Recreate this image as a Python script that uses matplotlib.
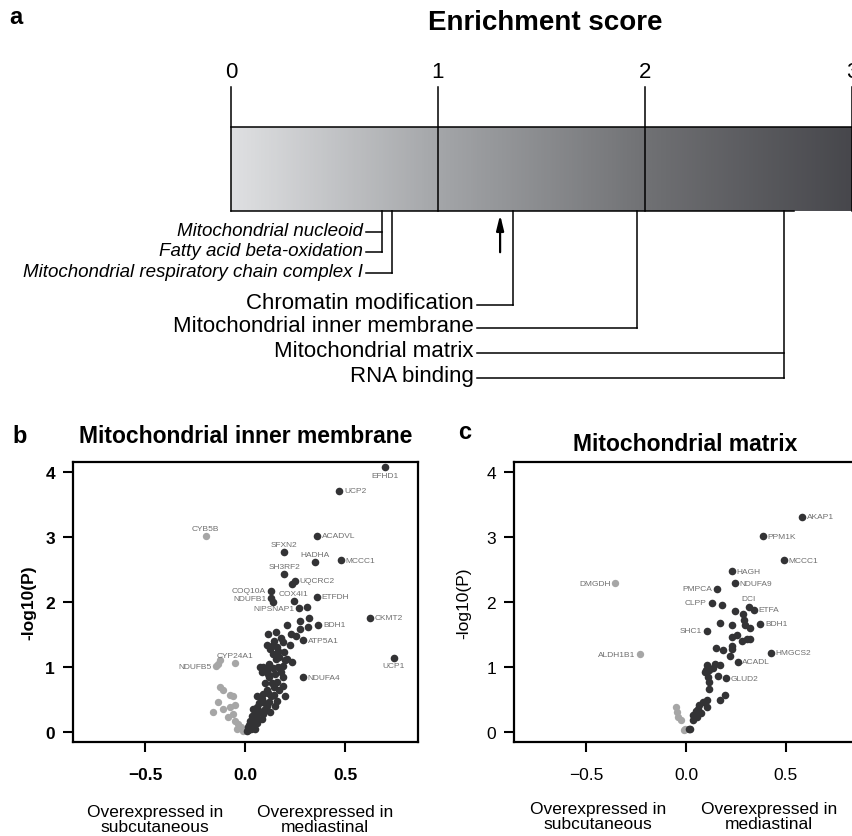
import matplotlib
matplotlib.use("Agg")
import matplotlib.pyplot as plt
import numpy as np
from matplotlib.colors import LinearSegmentedColormap

plt.rcParams['font.family'] = ['Liberation Sans', 'DejaVu Sans']

W, H = 852, 837

# ---- panel a: enrichment scores ----
score_ticks = [0, 1, 2, 3]
minor_terms = ["Mitochondrial nucleoid", "Fatty acid beta-oxidation",
               "Mitochondrial respiratory chain complex I"]
minor_scores = [0.73, 0.73, 0.78]
major_terms = ["Chromatin modification", "Mitochondrial inner membrane",
               "Mitochondrial matrix", "RNA binding"]
major_scores = [1.36, 1.96, 2.67, 2.67]
threshold = 1.3  # -log10(0.05)

# ---- panel b: mitochondrial inner membrane ----
b_lab_genes = ["EFHD1", "UCP2", "ACADVL", "SFXN2", "HADHA", "MCCC1", "SH3RF2", "UQCRC2",
               "COQ10A", "NDUFB1", "COX4I1", "ETFDH", "NIPSNAP1", "CKMT2", "BDH1", "ATP5A1",
               "UCP1", "NDUFA4"]
b_lab_x = [0.70, 0.472, 0.362, 0.195, 0.348, 0.478, 0.197, 0.248,
           0.13, 0.13, 0.243, 0.358, 0.272, 0.625, 0.367, 0.292, 0.745, 0.288]
b_lab_y = [4.07, 3.71, 3.02, 2.77, 2.61, 2.64, 2.43, 2.33,
           2.17, 2.06, 2.02, 2.08, 1.90, 1.76, 1.65, 1.415, 1.14, 0.84]
b_lab_gray_genes = ["CYB5B", "CYP24A1", "NDUFB5"]
b_lab_gray_x = [-0.197, -0.048, -0.145]
b_lab_gray_y = [3.01, 1.06, 1.01]
b_dark_x = [0.233, 0.142, 0.308, 0.117, 0.155, 0.212, 0.275, 0.322, 0.317, 0.228, 0.255, 0.275,
            0.108, 0.133, 0.192, 0.225, 0.167, 0.195, 0.172, 0.208, 0.233, 0.155, 0.075, 0.108,
            0.138, 0.167, 0.192, 0.083, 0.117, 0.15, 0.178, 0.133, 0.162, 0.188, 0.145, 0.058,
            0.092, 0.117, 0.145, 0.158, 0.122, 0.15, 0.042, 0.072, 0.10, 0.125, 0.055, 0.083,
            0.025, 0.042, 0.017, 0.008, 0.028, 0.092, 0.067, 0.108, 0.05, 0.035, 0.06, 0.02,
            0.09, 0.12, 0.14, 0.16, 0.18, 0.20, 0.10, 0.11, 0.13, 0.07, 0.06, 0.09,
            0.04, 0.03, 0.05, 0.015, 0.12, 0.19, 0.17, 0.20, 0.085, 0.125, 0.145, 0.065]
b_dark_y = [2.28, 2.005, 1.92, 1.51, 1.54, 1.64, 1.71, 1.76, 1.61, 1.51, 1.47, 1.59,
            1.34, 1.33, 1.38, 1.34, 1.25, 1.23, 1.16, 1.12, 1.08, 1.13, 0.995, 0.96,
            0.98, 0.995, 1.02, 0.92, 0.89, 0.89, 0.92, 0.76, 0.77, 0.71, 0.69, 0.56,
            0.585, 0.60, 0.57, 0.48, 0.456, 0.405, 0.354, 0.328, 0.354, 0.30, 0.24, 0.20,
            0.174, 0.123, 0.072, 0.02, 0.046, 0.456, 0.20, 0.405, 0.30, 0.25, 0.14, 0.10,
            1.00, 1.05, 1.20, 1.30, 1.45, 1.10, 0.75, 0.65, 0.55, 0.45, 0.38, 0.28,
            0.18, 0.08, 0.05, 0.03, 0.85, 0.85, 0.65, 0.55, 0.50, 1.28, 1.40, 0.33]
b_gray_x = [-0.125, -0.112, -0.075, -0.058, -0.133, -0.158, -0.112, -0.075, -0.05, -0.058,
            -0.083, -0.05, -0.033, -0.022, -0.008, -0.038, -0.133, -0.125]
b_gray_y = [0.69, 0.64, 0.57, 0.56, 0.456, 0.30, 0.354, 0.38, 0.415, 0.277,
            0.226, 0.174, 0.123, 0.072, 0.02, 0.046, 1.046, 1.10]

# ---- panel c: mitochondrial matrix ----
c_lab_genes = ["AKAP1", "PPM1K", "MCCC1", "HAGH", "NDUFA9", "PMPCA", "CLPP", "DCI", "ETFA",
               "BDH1", "SHC1", "HMGCS2", "ACADL", "GLUD2"]
c_lab_x = [0.581, 0.384, 0.489, 0.229, 0.243, 0.154, 0.129, 0.313, 0.338,
           0.372, 0.104, 0.425, 0.258, 0.201]
c_lab_y = [3.31, 3.015, 2.64, 2.47, 2.29, 2.205, 1.985, 1.93, 1.88,
           1.667, 1.554, 1.22, 1.077, 0.83]
c_lab_gray_genes = ["DMGDH", "ALDH1B1"]
c_lab_gray_x = [-0.353, -0.228]
c_lab_gray_y = [2.29, 1.195]
c_dark_x = [0.181, 0.243, 0.285, 0.288, 0.296, 0.318, 0.171, 0.229, 0.229, 0.255, 0.28,
            0.305, 0.318, 0.151, 0.184, 0.229, 0.229, 0.218, 0.107, 0.146, 0.171, 0.095,
            0.117, 0.134, 0.112, 0.162, 0.117, 0.117, 0.171, 0.196, 0.087, 0.107, 0.067,
            0.104, 0.05, 0.074, 0.034, 0.054, 0.037, 0.02, 0.013, 0.10, 0.06, 0.045]
c_dark_y = [1.96, 1.856, 1.82, 1.72, 1.64, 1.60, 1.68, 1.64, 1.46, 1.49, 1.395,
            1.43, 1.43, 1.29, 1.256, 1.33, 1.28, 1.17, 1.036, 1.05, 1.026, 0.923,
            0.95, 0.985, 0.846, 0.86, 0.77, 0.667, 0.487, 0.574, 0.46, 0.487, 0.41,
            0.385, 0.318, 0.297, 0.256, 0.23, 0.18, 0.04, 0.05, 0.95, 0.36, 0.28]
c_gray_x = [-0.05, -0.047, -0.039, -0.027, -0.01, -0.005]
c_gray_y = [0.385, 0.308, 0.23, 0.18, 0.026, 0.05]

x_ticks = [-0.5, 0.0, 0.5]
y_ticks = [0, 1, 2, 3, 4]
side_labels = ["Overexpressed in\nsubcutaneous", "Overexpressed in\nmediastinal"]

# label placement (r/l/t/b) for each labelled gene
b_place = ["b", "r", "r", "t", "t", "r", "t", "r", "l", "l", "t", "r", "l", "r", "r", "r", "b", "r"]
b_gray_place = ["t", "t", "l"]
c_place = ["r", "r", "r", "r", "r", "l", "l", "t", "r", "r", "l", "r", "r", "r"]
c_gray_place = ["l", "l"]

DARK = "#333335"
LIGHT = "#a6a6a6"
LABEL = "#6f6f6f"


def fx(px):
    return px / W


def fy(py):
    return 1 - py / H


fig = plt.figure(figsize=(W / 100, H / 100), dpi=100)

# panel a drawn in an axes whose x-axis is the enrichment score, y in layout rows
px_per = 207.0
ax = fig.add_axes([0, fy(400), 1, 400 / H])
ax.set_xlim(-231 / px_per, 621 / px_per)
ax.set_ylim(400, 0)
ax.axis("off")

bar_top, bar_bot = 128, 212
cmap = LinearSegmentedColormap.from_list("es", ["#dfe0e2", "#a3a5a8", "#6f7073", "#45454a"])
grad = np.linspace(0, 1, 400).reshape(1, -1)
ax.imshow(grad, cmap=cmap, aspect="auto", extent=(0, 3.05, bar_bot, bar_top), zorder=1)
ax.plot([0, 3.05], [bar_top, bar_top], color="k", lw=1.1, zorder=3)
ax.plot([0, 2.72], [bar_bot, bar_bot], color="k", lw=1.1, zorder=3)
for t in score_ticks:
    ax.plot([t, t], [88, bar_bot], color="k", lw=1.1, zorder=3)
    ax.text(t, 72, str(t), ha="center", va="center", fontsize=16)
ax.text(1.516, 23, "Enrichment score", ha="center", va="center", fontsize=20, fontweight="bold")
ax.text(-1.07, 17, "a", ha="left", va="center", fontsize=17, fontweight="bold")

minor_rows = [233, 253, 274]
major_rows = [306, 329, 354, 379]
minor_text_end = (363 - 231) / px_per
major_text_end = (474 - 231) / px_per
for term, s, yr in zip(minor_terms, minor_scores, minor_rows):
    ax.text(minor_text_end, yr - 1, term, ha="right", va="center", fontsize=13.5, style="italic")
    ax.plot([minor_text_end + 3 / px_per, s], [yr, yr], color="k", lw=1.1)
for term, s, yr in zip(major_terms, major_scores, major_rows):
    ax.text(major_text_end, yr - 2, term, ha="right", va="center", fontsize=16)
    ax.plot([major_text_end + 3 / px_per, s], [yr, yr], color="k", lw=1.1)
for scores, rows in ((minor_scores, minor_rows), (major_scores, major_rows)):
    for s in sorted(set(scores)):
        ymax = max(r for sc, r in zip(scores, rows) if sc == s)
        ax.plot([s, s], [bar_bot, ymax], color="k", lw=1.1)
ax.annotate("", xy=(threshold, bar_bot + 1), xytext=(threshold, 256),
            arrowprops=dict(arrowstyle="-|>,head_width=0.22,head_length=0.9", color="k", lw=1.6))


OFFS = {"r": ((3.5, 0), "left", "center"), "l": ((-3.5, 0), "right", "center"),
        "t": ((0, 3), "center", "bottom"), "b": ((0, -3), "center", "top")}


def volcano(ax, dx, dy, gx, gy, lx, ly, lg, lp, lgx, lgy, lgg, lgp, bold):
    ax.scatter(gx, gy, s=28, color=LIGHT, lw=0, zorder=2)
    ax.scatter(lgx, lgy, s=28, color=LIGHT, lw=0, zorder=2)
    ax.scatter(dx, dy, s=30, color=DARK, lw=0, zorder=3)
    ax.scatter(lx, ly, s=30, color=DARK, lw=0, zorder=3)
    for xs, ys, gs, ps in ((lx, ly, lg, lp), (lgx, lgy, lgg, lgp)):
        for x, y, g, p in zip(xs, ys, gs, ps):
            off, ha, va = OFFS[p]
            ax.annotate(g, (x, y), xytext=off, textcoords="offset points",
                        ha=ha, va=va, fontsize=6.0, color=LABEL)
    ax.set_xlim(-0.86, 0.865)
    ax.set_ylim(-0.154, 4.154)
    ax.set_xticks(x_ticks)
    ax.set_xticklabels(["\u22120.5", "0.0", "0.5"])
    ax.set_yticks(y_ticks)
    for sp in ax.spines.values():
        sp.set_linewidth(1.6)
    w = "bold" if bold else "normal"
    ax.tick_params(axis="both", length=7, width=1.5, labelsize=12.5)
    ax.tick_params(axis="x", pad=11)
    ax.tick_params(axis="y", pad=6)
    for lab in ax.get_xticklabels() + ax.get_yticklabels():
        lab.set_fontweight(w)
    ax.set_ylabel("-log10(P)", fontsize=12.5, fontweight=w)


axb = fig.add_axes([fx(73), fy(743), 345 / W, 280 / H])
volcano(axb, b_dark_x, b_dark_y, b_gray_x, b_gray_y, b_lab_x, b_lab_y, b_lab_genes, b_place,
        b_lab_gray_x, b_lab_gray_y, b_lab_gray_genes, b_gray_place, True)
axb.yaxis.set_label_coords(-0.106, 0.5)

axc = fig.add_axes([fx(514), fy(743), 345 / W, 280 / H])
volcano(axc, c_dark_x, c_dark_y, c_gray_x, c_gray_y, c_lab_x, c_lab_y, c_lab_genes, c_place,
        c_lab_gray_x, c_lab_gray_y, c_lab_gray_genes, c_gray_place, False)
axc.yaxis.set_label_coords(-0.123, 0.5)

fig.text(fx(246), fy(437), "Mitochondrial inner membrane", ha="center", va="center",
         fontsize=16.5, fontweight="bold")
fig.text(fx(685), fy(445), "Mitochondrial matrix", ha="center", va="center",
         fontsize=16.5, fontweight="bold")
fig.text(fx(12), fy(437), "b", ha="left", va="center", fontsize=17, fontweight="bold")
fig.text(fx(458), fy(433), "c", ha="left", va="center", fontsize=17, fontweight="bold")

for cx, lab in zip([155, 325], side_labels):
    fig.text(fx(cx), fy(820), lab, ha="center", va="center", fontsize=12.5, linespacing=1.0)
for cx, lab in zip([598, 769], side_labels):
    fig.text(fx(cx), fy(817), lab, ha="center", va="center", fontsize=12.5, linespacing=1.0)

fig.savefig("out.png", dpi=100)
